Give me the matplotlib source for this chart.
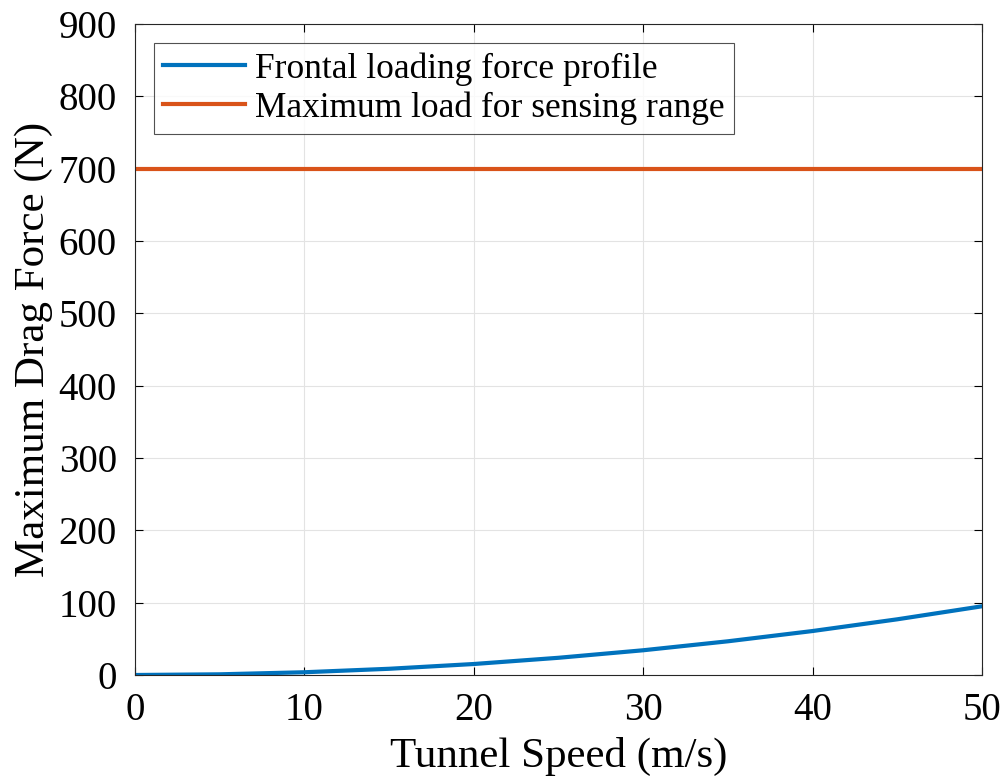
import numpy as np
from matplotlib import pyplot as plt

plt.rcParams['font.family'] = ['Liberation Serif', 'DejaVu Serif']
plt.rcParams['mathtext.fontset'] = 'stix'

# 读取的数据点
speed = [0, 5, 10, 15, 20, 25, 30, 35, 40, 45, 50]
drag = [0, 0.95, 3.8, 8.6, 15.2, 23.8, 34.2, 46.6, 60.8, 77.0, 95.0]
max_load = 700

xticks = [0, 10, 20, 30, 40, 50]
yticks = [0, 100, 200, 300, 400, 500, 600, 700, 800, 900]

fig = plt.figure(figsize=(10.07, 7.82), dpi=100)
ax = fig.add_axes([135 / 1007, 1 - 675 / 782, (982 - 135) / 1007, (675 - 24) / 782])

ax.plot(speed, drag, color='#0072BD', linewidth=3, label='Frontal loading force profile')
ax.axhline(max_load, color='#D95319', linewidth=3, label='Maximum load for sensing range')

ax.set_xlim(0, 50)
ax.set_ylim(0, 900)
ax.set_xticks(xticks)
ax.set_yticks(yticks)
ax.grid(True, color='#e3e3e3', linewidth=0.8)
ax.set_axisbelow(True)
ax.tick_params(direction='in', top=True, right=True, labelsize=28, length=6)
ax.tick_params(axis='x', pad=12)
ax.tick_params(axis='y', pad=13)
for s in ax.spines.values():
    s.set_linewidth(0.8)
    s.set_color('#262626')

ax.set_xlabel('Tunnel Speed (m/s)', fontsize=31, labelpad=6)
ax.set_ylabel('Maximum Drag Force (N)', fontsize=31, labelpad=4)

leg = ax.legend(loc='upper left', fontsize=25.5, frameon=True, fancybox=False,
                edgecolor='#262626', handlelength=2.3, handletextpad=0.3,
                borderpad=0.25, labelspacing=0.15, borderaxespad=0.55)
leg.get_frame().set_linewidth(0.8)

plt.savefig('out.png', dpi=100)
